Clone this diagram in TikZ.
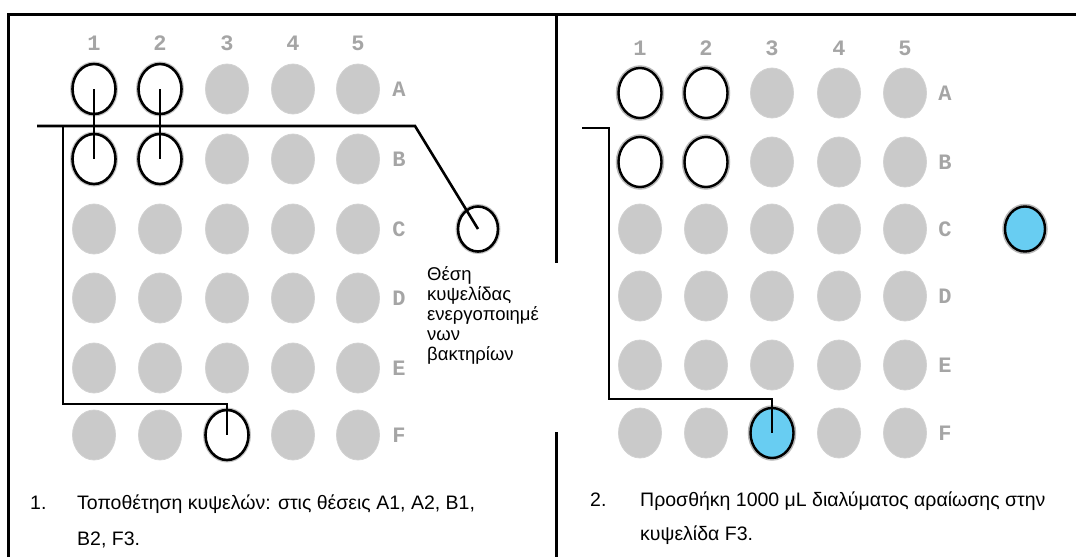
\documentclass[tikz,border=0pt]{standalone}
\usepackage{fontspec}
\setmainfont{Liberation Sans}
\newfontfamily\lblfont{Liberation Mono}
\usetikzlibrary{shapes.geometric}
\definecolor{wellgray}{RGB}{202,202,202}
\definecolor{wellblue}{RGB}{104,205,242}
\definecolor{lblgray}{RGB}{165,165,165}
\tikzset{
  well/.style={ellipse, minimum width=43pt, minimum height=50pt, inner sep=0pt,
    fill=wellgray, draw=wellgray!85!white, line width=0.8pt},
  selL/.style={fill=white, draw=black, line width=2.6pt,
    preaction={draw=gray!45, line width=5pt}},
  selR/.style={fill=white, draw=black, line width=2.4pt,
    preaction={draw=gray!55, line width=5.5pt}},
  selL-A1/.style={selL}, selL-A2/.style={selL}, selL-B1/.style={selL},
  selL-B2/.style={selL}, selL-F3/.style={selL},
  selR-A1/.style={selR}, selR-A2/.style={selR}, selR-B1/.style={selR},
  selR-B2/.style={selR}, selR-F3/.style={selR, fill=wellblue},
  xwell/.style={ellipse, minimum width=40pt, minimum height=45pt, inner sep=0pt},
  conn/.style={draw=black, line width=2.6pt},
  border/.style={draw=black, line width=3pt},
  lbl/.style={text=lblgray, font=\lblfont\bfseries\fontsize{22}{22}\selectfont, inner sep=0pt},
  captext/.style={anchor=base west, inner sep=0pt, font=\fontsize{19.5}{22}\selectfont},
}
\begin{document}
\begin{tikzpicture}[x=1pt, y=-1pt]
\useasboundingbox (0,0) rectangle (1076,557);
% frame
\draw[border] (8,557) -- (8,14) -- (1076,14);
\draw[border] (556,14) -- (556,263);
\draw[border] (556,432) -- (556,557);
% left plate
\foreach \c/\x in {1/94,2/160,3/227,4/293,5/358}
  \node[lbl] (Lc\c) at (\x,43) {\c};
\foreach \r/\y in {A/89,B/159,C/229,D/298,E/368,F/435}{
  \node[lbl] (Lr\r) at (399,\y) {\r};
  \foreach \c/\x in {1/94,2/160,3/227,4/293,5/358}
    \node[well, selL-\r\c/.try] (L-\r\c) at (\x,\y) {};
}
\node[xwell, selL] (Lx) at (478,229) {};
% right plate
\foreach \c/\x in {1/640,2/706,3/772,4/839,5/905}
  \node[lbl] (Rc\c) at (\x,48) {\c};
\foreach \r/\y in {A/93,B/162,C/229,D/296,E/365,F/433}{
  \node[lbl] (Rr\r) at (945,\y) {\r};
  \foreach \c/\x in {1/640,2/706,3/772,4/839,5/905}
    \node[well, selR-\r\c/.try] (R-\r\c) at (\x,\y) {};
}
\node[xwell, selR, fill=wellblue] (Rx) at (1025,229) {};
% left connectors
\draw[conn] (L-A1.center) -- (L-B1.center);
\draw[conn] (L-A2.center) -- (L-B2.center);
\coordinate (lstart) at (37,126);
\coordinate (lbend) at (415,126);
\coordinate (ljoin) at (63,126);
\coordinate (lcorner) at (63,404);
\draw[conn] (lstart) -- (lbend) -- (Lx.center);
\draw[conn] (ljoin) -- (lcorner) -| (L-F3.center);
% right connectors
\coordinate (rstart) at (582,128);
\coordinate (rbend) at (609,128);
\coordinate (rcorner) at (609,399);
\draw[conn] (rstart) -- (rbend) -- (rcorner) -| (R-F3.center);
% label
\node[anchor=north west, inner sep=0pt, align=left,
      font=\fontsize{18.5}{20}\selectfont] (note) at (427,266)
  {Θέση\\κυψελίδας\\ενεργοποιημέ\\νων\\βακτηρίων};
% captions
\node[captext] (n1) at (30,509) {1.};
\node[captext] (c1a) at (77,509) {Τοποθέτηση κυψελών: στις θέσεις A1, A2, B1,};
\node[captext] (c1b) at (77,545) {B2, F3.};
\node[captext] (n2) at (590,506) {2.};
\node[captext] (c2a) at (640,506) {Προσθήκη 1000 μL διαλύματος αραίωσης στην};
\node[captext] (c2b) at (640,540) {κυψελίδα F3.};
\end{tikzpicture}
\end{document}
